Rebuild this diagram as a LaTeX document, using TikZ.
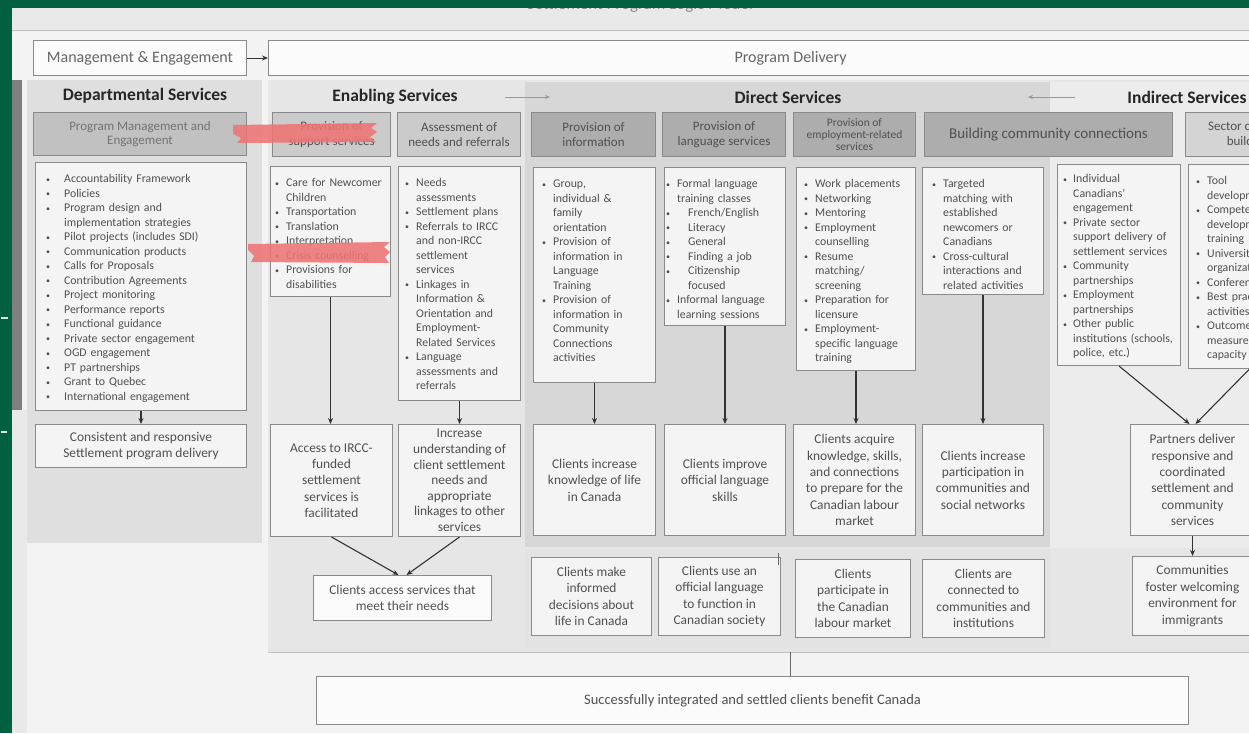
\documentclass[tikz,border=0pt]{standalone}
\usepackage{fontspec}
\setmainfont{Carlito}
\usetikzlibrary{arrows.meta, calc}
\definecolor{frame}{HTML}{00603F}
\definecolor{paper}{HTML}{F3F3F3}
\definecolor{strip}{HTML}{E9E9E9}
\definecolor{rule}{HTML}{BEBEBE}
\definecolor{deptf}{HTML}{DFDFDF}
\definecolor{delivf}{HTML}{E6E6E6}
\definecolor{directf}{HTML}{D7D7D7}
\definecolor{lowf}{HTML}{E3E3E3}
\definecolor{indf}{HTML}{ECECEC}
\definecolor{bar}{HTML}{7F7F7F}
\definecolor{bline}{HTML}{8A8A8A}
\definecolor{boxf}{HTML}{F4F4F4}
\definecolor{hdrf}{HTML}{CBCBCB}
\definecolor{dhdrf}{HTML}{ADADAD}
\definecolor{txt}{HTML}{505050}
\definecolor{hl}{HTML}{EE7474}
\newcommand\lstfont{\fontsize{11.8}{14.5}\selectfont}
\newcommand\outfont{\fontsize{13.4}{16.4}\selectfont}
\newcommand\hdrfont{\fontsize{13}{14.5}\selectfont}
\newcommand\secfont{\fontsize{17.5}{18}\selectfont\bfseries}
\newcommand\topfont{\fontsize{16}{18}\selectfont}
\newlength\bulw
\setlength\bulw{11pt}
\newcommand\dotmark{\raisebox{0.6pt}{\fontsize{8}{8}\selectfont\textbullet}}
\newcommand\itm[1]{\par\begingroup\let\\\newline\hangindent=\bulw\hangafter=1\noindent
  \makebox[\bulw][l]{\dotmark}#1\par\endgroup}
\newcommand\sitm[1]{\par\begingroup\let\\\newline\hangindent=2\bulw\hangafter=1\noindent
  \makebox[2\bulw][l]{\dotmark}#1\par\endgroup}
\tikzset{
  cell/.style={draw=bline, line width=1pt, fill=boxf, anchor=north west,
    inner sep=2pt, align=center, text=txt},
  hdr/.style={cell, fill=hdrf, font=\hdrfont},
  dhdr/.style={cell, fill=dhdrf, font=\hdrfont},
  outc/.style={cell, font=\outfont},
  ltxt/.style={anchor=north west, text width=#1, align=left, font=\lstfont,
    text=txt, inner sep=0pt},
  sect/.style={font=\secfont, text=black!85},
  conn/.style={-{Stealth[length=6pt,width=5pt]}, line width=1.1pt, draw=black!80},
  faint/.style={-{Stealth[length=5pt,width=4pt]}, line width=0.8pt, draw=black!40}
}

\begin{document}
\begin{tikzpicture}[x=1pt, y=-1pt]
\useasboundingbox (0,0) rectangle (1249,733);
% backdrop and panels
\fill[paper] (0,0) rectangle (1249,733);
\fill[strip] (12,8) rectangle (1249,30);
\draw[rule] (12,30) -- (1249,30);
\node[font=\fontsize{17}{17}\selectfont, text=black!45] (ttl) at (640,5) {Settlement Program Logic Model};
\fill[deptf] (27,80) rectangle (262,543);
\fill[delivf] (268,80) rectangle (1249,652);
\fill[directf] (525,82) rectangle (1050,547);
\fill[lowf] (525,549) rectangle (1050,648);
\fill[indf] (1050,82) rectangle (1249,548);
\draw[rule, line width=1pt] (268,652) -- (1249,652);
\fill[bar] (12,80) rectangle (22,410);
\fill[strip] (12,410) rectangle (27,733);

% top row
\node[cell, font=\topfont, text=black!60, fill=white!60!boxf, minimum width=213, minimum height=35] (mgmt) at (33,40) {Management \& Engagement};
\node[cell, font=\topfont, text=black!60, fill=white!60!boxf, minimum width=1044, minimum height=35] (deliv) at (268,40) {Program Delivery};
\draw[conn, line width=0.8pt] (mgmt.east) -- (deliv.west);

% section titles
\node[sect] (dtitle) at (145,96) {Departmental Services};
\node[sect] (etitle) at (395,97) {Enabling Services};
\node[sect] (rtitle) at (788,97) {Direct Services};
\node[sect] (ititle) at (1187,97) {Indirect Services};
\coordinate (ea) at (505,97);
\coordinate (eb) at (550,97);
\coordinate (ia) at (1075,97);
\coordinate (ib) at (1028,97);
\draw[faint] (ea) -- (eb);
\draw[faint] (ia) -- (ib);

% departmental services
\node[hdr, fill=deptf!85!black!95, text=black!55, minimum width=213, minimum height=43] (dhead) at (33,112) {Program Management and\\Engagement};
\node[cell, minimum width=211, minimum height=248] (dlist) at (35,162) {};
\node[ltxt=200pt] (dlist-t) at ([xshift=11pt,yshift=-6pt]dlist.north west) {\setlength\bulw{18pt}%
  \itm{Accountability Framework}\itm{Policies}\itm{Program design and\\implementation strategies}%
  \itm{Pilot projects (includes SDI)}\itm{Communication products}\itm{Calls for Proposals}%
  \itm{Contribution Agreements}\itm{Project monitoring}\itm{Performance reports}%
  \itm{Functional guidance}\itm{Private sector engagement}\itm{OGD engagement}%
  \itm{PT partnerships}\itm{Grant to Quebec}\itm{International engagement}};
\node[outc, minimum width=211, minimum height=43] (dout) at (35,424) {Consistent and responsive\\Settlement program delivery};
\draw[conn] (dlist.south) -- (dlist.south |- dout.north);

% enabling services
\node[hdr, minimum width=118, minimum height=44] (sup) at (272,112) {Provision of\\support services};
\node[hdr, minimum width=123, minimum height=44] (asm) at (397,112) {Assessment of\\needs and referrals};
\node[cell, minimum width=120, minimum height=130] (suplist) at (270,166) {};
\node[ltxt=130pt] (suplist-t) at ([xshift=5pt,yshift=-6pt]suplist.north west) {%
  \itm{Care for Newcomer\\Children}\itm{Transportation}\itm{Translation}\itm{Interpretation}%
  \itm{Crisis counselling}\itm{Provisions for\\disabilities}};
\node[cell, minimum width=122, minimum height=234] (asmlist) at (398,166) {};
\node[ltxt=130pt] (asmlist-t) at ([xshift=7pt,yshift=-6pt]asmlist.north west) {%
  \itm{Needs\\assessments}\itm{Settlement plans}\itm{Referrals to IRCC\\and non-IRCC\\settlement\\services}%
  \itm{Linkages in\\Information \&\\Orientation and\\Employment-\\Related Services}%
  \itm{Language\\assessments and\\referrals}};
\node[outc, minimum width=122, minimum height=112] (acc) at (270,424) {Access to IRCC-\\funded\\settlement\\services is\\facilitated};
\node[outc, minimum width=122, minimum height=112, font=\fontsize{13.4}{15.6}\selectfont] (und) at (398,424) {Increase\\understanding of\\client settlement\\needs and\\appropriate\\linkages to other\\services};
\node[outc, minimum width=178, minimum height=45, fill=white!60!boxf] (meet) at (313,575) {Clients access services that\\meet their needs};
\draw[conn] (suplist.south) -- (suplist.south |- acc.north);
\draw[conn] (asmlist.south) -- (asmlist.south |- und.north);
\draw[conn] (acc.south) -- ([xshift=-4pt]meet.north);
\draw[conn] (und.south) -- ([xshift=4pt]meet.north);

% direct and indirect services
\node[dhdr, minimum width=124, minimum height=44] (info) at (531,112) {Provision of\\information};
\node[dhdr, minimum width=123, minimum height=44] (lang) at (662,112) {Provision of\\language services};
\node[dhdr, minimum width=122, minimum height=44, font=\fontsize{11.5}{12}\selectfont] (emp) at (793,112) {Provision of\\employment-related\\services};
\node[dhdr, minimum width=248, minimum height=44, font=\fontsize{15}{16}\selectfont] (comm) at (924,112) {Building community connections};
\node[hdr, fill=indf!90!black, minimum width=125, minimum height=44] (sect) at (1185,112) {Sector capacity\\building};

\node[cell, minimum width=122, minimum height=215] (infolist) at (533,167) {};
\node[ltxt=130pt] (infolist-t) at ([xshift=9pt,yshift=-6pt]infolist.north west) {%
  \itm{Group,\\individual \&\\family\\orientation}\itm{Provision of\\information in\\Language\\Training}%
  \itm{Provision of\\information in\\Community\\Connections\\activities}};
\node[cell, minimum width=121, minimum height=158] (langlist) at (664,167) {};
\node[ltxt=130pt] (langlist-t) at ([xshift=2pt,yshift=-6pt]langlist.north west) {%
  \itm{Formal language\\training classes}\sitm{French/English}\sitm{Literacy}\sitm{General}%
  \sitm{Finding a job}\sitm{Citizenship\\focused}\itm{Informal language\\learning sessions}};
\node[cell, minimum width=119, minimum height=203] (emplist) at (796,167) {};
\node[ltxt=130pt] (emplist-t) at ([xshift=8pt,yshift=-6pt]emplist.north west) {%
  \itm{Work placements}\itm{Networking}\itm{Mentoring}\itm{Employment\\counselling}%
  \itm{Resume\\matching/\\screening}\itm{Preparation for\\licensure}%
  \itm{Employment-\\specific language\\training}};
\node[cell, minimum width=121, minimum height=127] (commlist) at (922,167) {};
\node[ltxt=130pt] (commlist-t) at ([xshift=10pt,yshift=-6pt]commlist.north west) {%
  \itm{Targeted\\matching with\\established\\newcomers or\\Canadians}%
  \itm{Cross-cultural\\interactions and\\related activities}};
\node[cell, minimum width=123, minimum height=201] (ind1) at (1057,164) {};
\node[ltxt=130pt] (ind1-t) at ([xshift=6pt,yshift=-4pt]ind1.north west) {\setlength\bulw{10pt}%
  \itm{Individual\\Canadians'\\engagement}\itm{Private sector\\support delivery of\\settlement services}%
  \itm{Community\\partnerships}\itm{Employment\\partnerships}%
  \itm{Other public\\institutions (schools,\\police, etc.)}};
\node[cell, minimum width=122, minimum height=204] (ind2) at (1188,164) {};
\node[ltxt=130pt] (ind2-t) at ([xshift=8pt,yshift=-6pt]ind2.north west) {%
  \itm{Tool\\development}\itm{Competency\\development\\training}\itm{Universities\\organizations}%
  \itm{Conferences}\itm{Best practices\\activities}\itm{Outcome\\measurement\\capacity}};

\node[outc, minimum width=122, minimum height=111] (kno) at (533,424) {Clients increase\\knowledge of life\\in Canada};
\node[outc, minimum width=121, minimum height=111] (imp) at (664,424) {Clients improve\\official language\\skills};
\node[outc, minimum width=122, minimum height=111] (acq) at (793,424) {Clients acquire\\knowledge, skills,\\and connections\\to prepare for the\\Canadian labour\\market};
\node[outc, minimum width=121, minimum height=111] (par) at (922,424) {Clients increase\\participation in\\communities and\\social networks};
\node[outc, minimum width=124, minimum height=111] (partn) at (1130,424) {Partners deliver\\responsive and\\coordinated\\settlement and\\community\\services};
\node[outc, minimum width=120, minimum height=79] (welc) at (1132,556) {Communities\\foster welcoming\\environment for\\immigrants};
\draw[conn] (infolist.south) -- (infolist.south |- kno.north);
\draw[conn] (langlist.south) -- (langlist.south |- imp.north);
\draw[conn] (emplist.south) -- (emplist.south |- acq.north);
\draw[conn] (commlist.south) -- (commlist.south |- par.north);
\draw[conn] (ind1.south) -- ([xshift=-3pt]partn.north);
\draw[conn] (ind2.south) -- ([xshift=3pt]partn.north);
\draw[conn] (partn.south) -- (partn.south |- welc.north);

\node[outc, minimum width=120, minimum height=78] (dec) at (531,557) {Clients make\\informed\\decisions about\\life in Canada};
\node[outc, minimum width=122, minimum height=78] (use) at (658,557) {Clients use an\\official language\\to function in\\Canadian society};
\node[outc, minimum width=115, minimum height=78] (lab) at (795,559) {Clients\\participate in\\the Canadian\\labour market};
\node[outc, minimum width=122, minimum height=78] (con) at (922,559) {Clients are\\connected to\\communities and\\institutions};
\coordinate (tk1) at (778,553);
\coordinate (tk2) at (778,565);
\draw[line width=0.8pt, black!60] (tk1) -- (tk2);

% ultimate outcome
\node[outc, font=\fontsize{14.5}{16}\selectfont, minimum width=872, minimum height=48, fill=white!60!boxf] (final) at (316,676) {Successfully integrated and settled clients benefit Canada};
\coordinate (pb) at (790,652);
\draw[line width=0.8pt, black!60] (pb) -- (pb |- final.north);

% highlight marks
\fill[hl, opacity=0.88] (233,125) -- (377,123) -- (371,128) -- (377,132) -- (370,137) -- (376,142)
  -- (237,143) -- (241,138) -- (233,134) -- cycle;
\fill[hl, opacity=0.88] (248,244) -- (390,242) -- (384,247) -- (390,252) -- (385,257) -- (389,263)
  -- (251,262) -- (254,256) -- (248,250) -- cycle;

% screen frame
\fill[frame] (0,0) rectangle (1249,8);
\fill[frame] (0,0) rectangle (12,733);
\draw[white!85!frame, line width=1.2pt] (1,318) -- (8,318);
\draw[white!85!frame, line width=1.2pt] (1,432) -- (7,432);
\end{tikzpicture}
\end{document}
